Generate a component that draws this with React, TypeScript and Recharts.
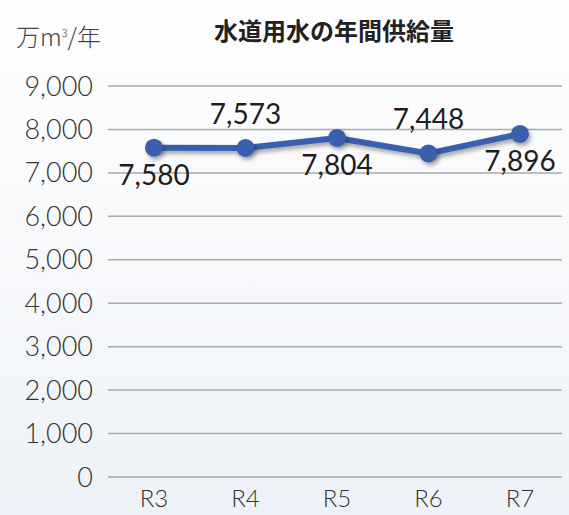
import { LineChart, Line, XAxis, YAxis, CartesianGrid, LabelList } from "recharts";

const years = ["R3", "R4", "R5", "R6", "R7"];
const supply = [7580, 7573, 7804, 7448, 7896];
const yTicks = [0, 1000, 2000, 3000, 4000, 5000, 6000, 7000, 8000, 9000];

const data = years.map((year, i) => ({ year, supply: supply[i] }));

const fmt = (v: number) => v.toLocaleString("en-US");

const PointLabel = (props: any) => {
  const { x, y, value, index } = props;
  const above = index % 2 === 1;
  return (
    <text
      x={x}
      y={above ? y - 35 : y + 26}
      textAnchor="middle"
      dominantBaseline="central"
      fontSize={28}
      fill="#1e1e1e"
      fontFamily="Lato, 'Noto Sans', sans-serif"
    >
      {fmt(value)}
    </text>
  );
};

const App = () => {
  return (
    <div
      style={{
        position: "absolute",
        left: 0,
        top: 0,
        width: 569,
        height: 515,
        overflow: "hidden",
        background: "linear-gradient(to bottom, #fefefe 0%, #f8f9fb 45%, #edf2f8 100%)",
      }}
    >
      <style>{`.recharts-line-curve, .recharts-line-dots { filter: drop-shadow(2px 3px 2px rgba(0,0,0,0.35)); }`}</style>
      <div
        style={{
          position: "absolute",
          left: 16,
          top: 18,
          fontSize: 24,
          color: "#444",
          fontWeight: 300,
          fontFamily: "'Noto Sans CJK JP', sans-serif",
          whiteSpace: "nowrap",
        }}
      >
        万m<sup style={{ fontSize: 11 }}>3</sup>/年
      </div>
      <div
        style={{
          position: "absolute",
          left: 334,
          top: 29,
          transform: "translate(-50%, -50%)",
          fontSize: 24,
          fontWeight: 700,
          color: "#222",
          fontFamily: "'Noto Sans CJK JP', sans-serif",
          whiteSpace: "nowrap",
        }}
      >
        水道用水の年間供給量
      </div>
      <LineChart
        width={569}
        height={515}
        data={data}
        margin={{ top: 86, right: 7, left: 0, bottom: 0 }}
        style={{ position: "absolute", left: 0, top: 0 }}
      >
        <CartesianGrid vertical={false} stroke="#aaa" strokeWidth={1.5} />
        <XAxis
          dataKey="year"
          height={38}
          axisLine={false}
          tickLine={false}
          tickSize={0}
          tickMargin={13}
          padding={{ left: 46, right: 42 }}
          tick={{ fontSize: 24, fill: "#333", fontFamily: "Lato, sans-serif", fontWeight: 300 }}
        />
        <YAxis
          width={108}
          domain={[0, 9000]}
          ticks={yTicks}
          axisLine={false}
          tickLine={false}
          tickSize={0}
          tickMargin={15}
          tickFormatter={fmt}
          tick={{ fontSize: 27, fill: "#333", fontFamily: "Lato, sans-serif", fontWeight: 300 }}
        />
        <Line
          dataKey="supply"
          stroke="#3a5fae"
          strokeWidth={6}
          dot={{ r: 9, fill: "#3a5fae", stroke: "none" }}
          isAnimationActive={false}
        >
          <LabelList dataKey="supply" content={<PointLabel />} />
        </Line>
      </LineChart>
    </div>
  );
};

export default App;
